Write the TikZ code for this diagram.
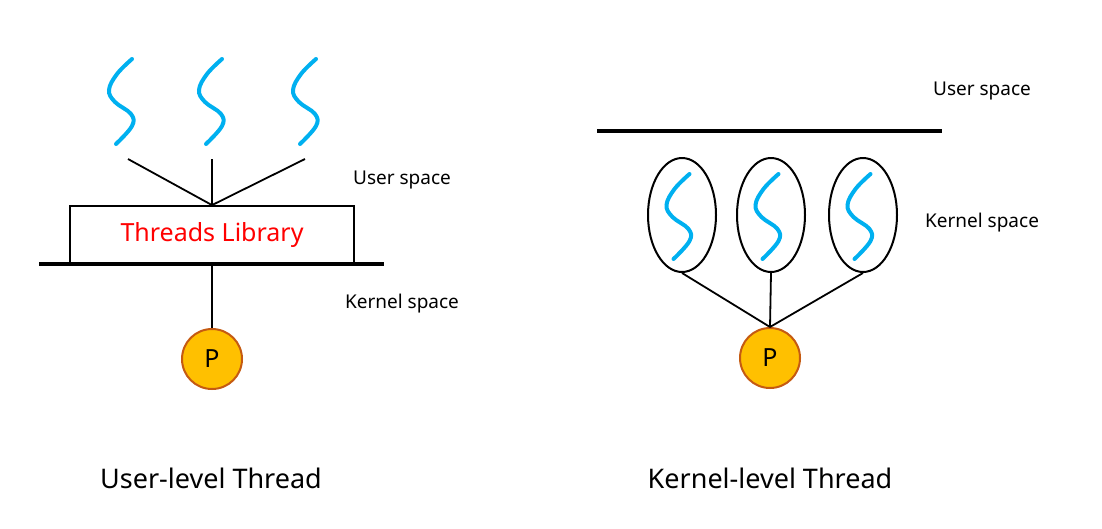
\documentclass[tikz,border=0pt]{standalone}
\usepackage{fontspec}
\setmainfont{Noto Sans}
\usetikzlibrary{shapes.geometric}

\definecolor{threadblue}{HTML}{00B0F0}
\definecolor{procfill}{HTML}{FFC000}
\definecolor{procedge}{HTML}{C55A11}
\definecolor{libred}{HTML}{FF0000}

\tikzset{
	thread/.style={draw=threadblue, line width=4pt, line cap=round},
	wire/.style={line width=1.8pt},
	boundary/.style={line width=4pt},
	proc/.style={circle, draw=procedge, fill=procfill, line width=2pt, minimum size=60pt, inner sep=0pt, font=\fontsize{25}{25}\selectfont},
	kthread/.style={ellipse, draw, line width=2pt, minimum width=68pt, minimum height=114pt, inner sep=0pt},
	spacelbl/.style={font=\fontsize{19}{19}\selectfont},
	title/.style={font=\fontsize{27}{27}\selectfont},
	squiggle/.pic={\draw[thread] plot [smooth, tension=0.65] coordinates {(11,-41) (-4,-26) (-12,-10) (-6,2) (10,14) (11,26) (-5,44)};}
}

\begin{document}
\begin{tikzpicture}[x=1pt,y=-1pt]
	\useasboundingbox (0,0) rectangle (1102,528);

	%User-level Thread--------------------------
		%threads
		\foreach \x in {121,211,305} \pic at (\x,100) {squiggle};
		\coordinate (ut1) at (128,159);
		\coordinate (ut2) at (212,159);
		\coordinate (ut3) at (305,159);

		%library and processor
		\node[draw, wire, minimum width=284pt, minimum height=57pt, inner sep=0pt, text=libred, font=\fontsize{25}{25}\selectfont] (lib) at (212,234.5) {Threads Library};
		\node[proc] (pu) at (212,359) {P};

		%connectors
		\draw[wire] (ut1) -- (lib.north);
		\draw[wire] (ut2) -- (lib.north);
		\draw[wire] (ut3) -- (lib.north);
		\draw[wire] (lib.south) -- (pu.north);

		%user/kernel boundary
		\coordinate (ub1) at (39,264);
		\coordinate (ub2) at (384,264);
		\draw[boundary] (ub1) -- (ub2);

		%labels
		\node[spacelbl] (uus) at (402,180) {User space}; %user space label
		\node[spacelbl] (uks) at (402,304) {Kernel space}; %kernel space label
		\node[title] (ut) at (211,478) {User-level Thread}; %title

	%Kernel-level Thread------------------------
		%user/kernel boundary
		\coordinate (kb1) at (597,131);
		\coordinate (kb2) at (942,131);
		\draw[boundary] (kb1) -- (kb2);

		%threads
		\foreach \x/\n in {682/k1,771/k2,863/k3}{
			\node[kthread] (\n) at (\x,215) {};
			\pic at (\x-3.5,215) {squiggle};
		}
		\node[proc] (pk) at (770,358) {P};

		%connectors
		\draw[wire] (k1.south) -- (pk.north);
		\draw[wire] (k2.south) -- (pk.north);
		\draw[wire] (k3.south) -- (pk.north);

		%labels
		\node[spacelbl] (kus) at (982,91) {User space}; %user space label
		\node[spacelbl] (kks) at (982,223) {Kernel space}; %kernel space label
		\node[title] (kt) at (770,478) {Kernel-level Thread}; %title
\end{tikzpicture}
\end{document}
